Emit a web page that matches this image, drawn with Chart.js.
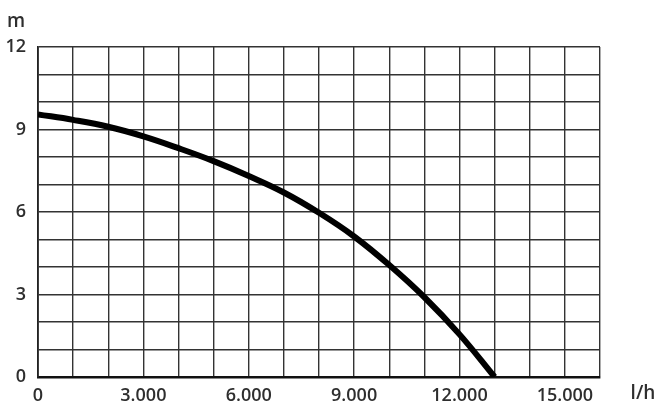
<!DOCTYPE html>
<html>
<head>
<meta charset="utf-8">
<script src="https://cdn.jsdelivr.net/npm/chart.js@4"></script>
<style>
  html, body { margin: 0; padding: 0; background: #fff; }
  #wrap { width: 656px; height: 406px; }
</style>
</head>
<body>
<div id="wrap"><canvas id="pumpChart"></canvas></div>
<script>
// flow in l/h, head in m
const flowValues = [0, 1000, 2000, 3000, 4000, 5000, 6000, 7000, 8000, 9000, 10000, 11000, 12000, 13000];
const headValues = [9.55, 9.35, 9.1, 8.75, 8.32, 7.85, 7.31, 6.71, 5.97, 5.11, 4.07, 2.9, 1.55, 0];
const xTickValues = [0, 3000, 6000, 9000, 12000, 15000];
const xTickLabels = ["0", "3.000", "6.000", "9.000", "12.000", "15.000"];
const yTickValues = [0, 3, 6, 9, 12];
const yTickLabels = ["0", "3", "6", "9", "12"];

const FONT = "'Open Sans'";
const TEXT = "#2e2e2e";

const unitPlugin = {
  id: "unitPlugin",
  afterDraw(chart) {
    const { ctx } = chart;
    ctx.save();
    ctx.fillStyle = TEXT;
    ctx.font = "600 19px " + FONT;
    ctx.textAlign = "center";
    ctx.textBaseline = "alphabetic";
    ctx.fillText("m", 16, 27);
    ctx.fillText("l/h", 643, 399);
    ctx.restore();
  },
};

const ctx = document.getElementById("pumpChart");
new Chart(ctx, {
  type: "line",
  data: {
    datasets: [
      {
        data: flowValues.map((x, i) => ({ x: x, y: headValues[i] })),
        borderColor: "#000",
        borderWidth: 6,
        pointRadius: 0,
        tension: 0.4,
        fill: false,
      },
    ],
  },
  options: {
    responsive: true,
    maintainAspectRatio: false,
    animation: false,
    layout: {
      padding: { top: 47, right: 56, left: 0, bottom: 0 },
    },
    plugins: {
      legend: { display: false },
      tooltip: { enabled: false },
    },
    scales: {
      x: {
        type: "linear",
        min: 0,
        max: 16000,
        afterFit: (scale) => { scale.height = 29; },
        border: { color: "#111", width: 2.5 },
        grid: { color: "#333", lineWidth: 1.4, drawTicks: false },
        ticks: {
          stepSize: 1000,
          autoSkip: false,
          maxRotation: 0,
          padding: 8,
          color: TEXT,
          font: { family: FONT, size: 18, weight: "600" },
          callback: (value) => {
            const i = xTickValues.indexOf(value);
            return i >= 0 ? xTickLabels[i] : "";
          },
        },
      },
      y: {
        min: 0,
        max: 12,
        afterFit: (scale) => { scale.width = 38; },
        border: { color: "#222", width: 1.8 },
        grid: { color: "#333", lineWidth: 1.4, drawTicks: false },
        ticks: {
          stepSize: 1,
          autoSkip: false,
          padding: 12,
          color: TEXT,
          font: { family: FONT, size: 18, weight: "600" },
          callback: (value) => {
            const i = yTickValues.indexOf(value);
            return i >= 0 ? yTickLabels[i] : "";
          },
        },
      },
    },
  },
  plugins: [unitPlugin],
});
</script>
</body>
</html>
